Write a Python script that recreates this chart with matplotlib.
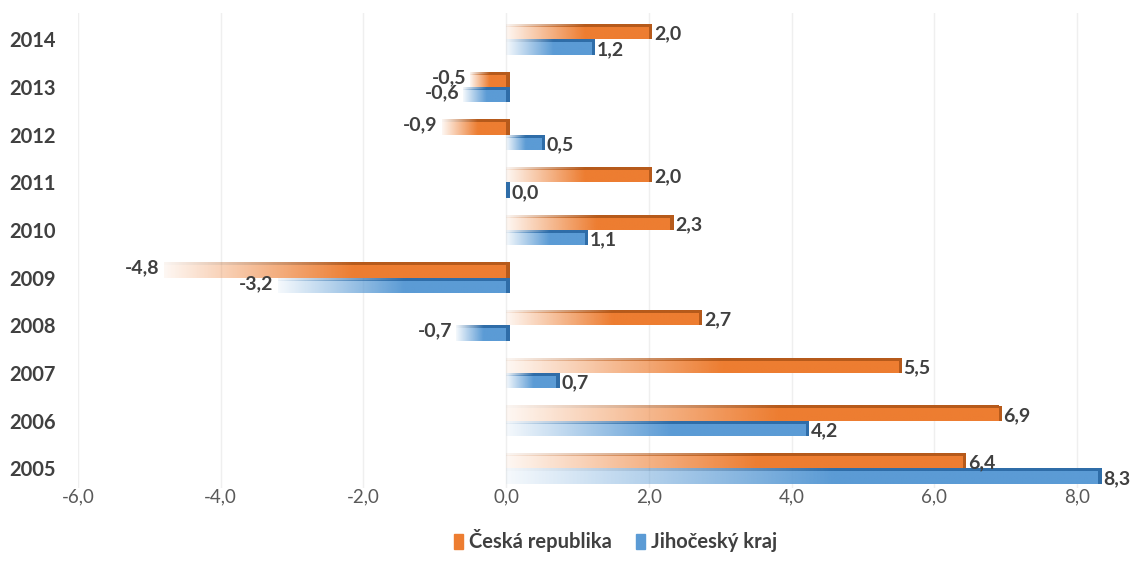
import numpy as np
import matplotlib
matplotlib.use("Agg")
import matplotlib.pyplot as plt
import matplotlib.patches as mpatches
from matplotlib.colors import to_rgb

plt.rcParams['font.family'] = ['Lato', 'DejaVu Sans']

years = ['2005', '2006', '2007', '2008', '2009', '2010', '2011', '2012', '2013', '2014']
cr = [6.4, 6.9, 5.5, 2.7, -4.8, 2.3, 2.0, -0.9, -0.5, 2.0]   # Česká republika
jk = [8.3, 4.2, 0.7, -0.7, -3.2, 1.1, 0.0, 0.5, -0.6, 1.2]   # Jihočeský kraj
names = ['Česká republika', 'Jihočeský kraj']

orange = '#ED7D31'
orange_dark = '#B65A1B'
blue = '#5B9BD5'
blue_dark = '#2F6DA8'
txt = '#404040'

bh = 0.32   # bar thickness in category units


def grad_bar(ax, v, y0, color, dark):
    # gradient from white (left end) to solid colour, 3D-ish top strip and right cap
    x0, x1 = min(v, 0), max(v, 0)
    t = np.linspace(0, 1, 256)
    a = 0.06 + 0.94 * np.clip(t / 0.55, 0, 1)
    for c, ya, yb in [(color, y0, y0 + bh - 0.06), (dark, y0 + bh - 0.06, y0 + bh)]:
        if x1 - x0 <= 0:
            continue
        img = np.zeros((1, 256, 4))
        img[0, :, :3] = to_rgb(c)
        img[0, :, 3] = a
        ax.imshow(img, extent=[x0, x1, ya, yb], aspect='auto',
                  interpolation='bilinear', zorder=2)
    ax.add_patch(mpatches.Rectangle((x1, y0), 0.05, bh, color=dark, lw=0, zorder=3))


fig = plt.figure(figsize=(11.3, 5.68), dpi=100)
ax = fig.add_axes([0.069, 0.14, 0.922, 0.837])

for i, (a, b) in enumerate(zip(cr, jk)):
    grad_bar(ax, a, i, orange, orange_dark)
    grad_bar(ax, b, i - bh, blue, blue_dark)
    for v, yc in [(a, i + bh / 2), (b, i - bh / 2)]:
        lab = ('%.1f' % v).replace('.', ',')
        if v >= 0:
            ax.text(v + 0.07, yc - 0.05, lab, ha='left', va='center', fontsize=14,
                    fontweight='bold', color=txt, clip_on=False, zorder=4)
        else:
            ax.text(v - 0.06, yc + 0.04, lab, ha='right', va='center', fontsize=14,
                    fontweight='bold', color=txt, clip_on=False, zorder=4)

ax.set_xlim(-6, 8.6)
ax.set_ylim(-0.42, 9.55)
ax.set_xticks(np.arange(-6, 9, 2))
ax.set_xticklabels([('%.1f' % x).replace('.', ',') for x in np.arange(-6, 9, 2)],
                   fontsize=13.5, color='#595959')
ax.set_yticks(range(len(years)))
ax.set_yticklabels(years, fontsize=14.5, fontweight='bold', color=txt)
ax.tick_params(axis='both', length=0)
ax.tick_params(axis='y', pad=16)
ax.tick_params(axis='x', pad=0)
ax.grid(axis='x', color='#EFEFEF', lw=1, zorder=0)
ax.set_axisbelow(True)
for s in ax.spines.values():
    s.set_visible(False)

handles = [mpatches.Patch(color=orange, label=names[0]),
           mpatches.Patch(color=blue, label=names[1])]
fig.legend(handles=handles, loc='center', bbox_to_anchor=(0.545, 0.048), ncol=2,
           frameon=False, handlelength=0.45, handleheight=0.8, handletextpad=0.3,
           columnspacing=1.2, prop={'size': 14.5, 'weight': 'bold'}, labelcolor=txt)

plt.savefig('out.png', dpi=100)
